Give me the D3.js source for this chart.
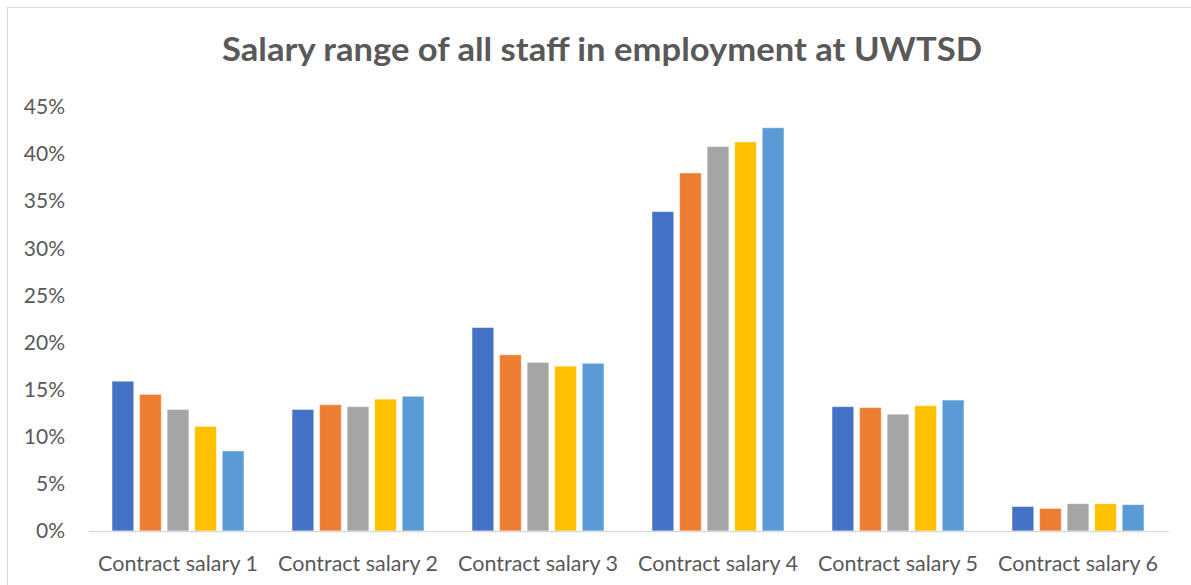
<!DOCTYPE html>
<html>
<head>
<meta charset="utf-8">
<script src="https://cdn.jsdelivr.net/npm/d3@7"></script>
<style>
  html, body { margin: 0; padding: 0; background: #fff; overflow: hidden; }
  svg { display: block; }
  text { font-family: Lato, "Open Sans", sans-serif; fill: #595959; }
</style>
</head>
<body>
<svg id="chart" width="1191" height="585"></svg>
<script>
const title = "Salary range of all staff in employment at UWTSD";
const categories = ["Contract salary 1", "Contract salary 2", "Contract salary 3", "Contract salary 4", "Contract salary 5", "Contract salary 6"];
const seriesNames = ["Series 1", "Series 2", "Series 3", "Series 4", "Series 5"];
const series1 = [0.159, 0.129, 0.216, 0.339, 0.132, 0.026];
const series2 = [0.145, 0.134, 0.187, 0.380, 0.131, 0.024];
const series3 = [0.129, 0.132, 0.179, 0.408, 0.124, 0.029];
const series4 = [0.111, 0.140, 0.175, 0.413, 0.133, 0.029];
const series5 = [0.085, 0.143, 0.178, 0.428, 0.139, 0.028];
const seriesValues = [series1, series2, series3, series4, series5];
const colors = ["#4472C4", "#ED7D31", "#A5A5A5", "#FFC000", "#5B9BD5"];
const yTicks = [0, 0.05, 0.10, 0.15, 0.20, 0.25, 0.30, 0.35, 0.40, 0.45];

const svg = d3.select("#chart");

// chart area border
svg.append("rect")
  .attr("x", 7.5).attr("y", 7.5)
  .attr("width", 1190).attr("height", 600)
  .attr("fill", "#fff").attr("stroke", "#D9D9D9").attr("stroke-width", 1);

const plotLeft = 88, plotRight = 1168, plotTop = 107, plotBottom = 531;

const x0 = d3.scaleBand().domain(categories).range([plotLeft, plotRight]);
const x1 = d3.scaleBand().domain(seriesNames).range([24, 156]).paddingInner(0.21);
const y = d3.scaleLinear().domain([0, 0.45]).range([plotBottom, plotTop]);

// title
svg.append("text")
  .attr("x", 602).attr("y", 61)
  .attr("text-anchor", "middle")
  .attr("textLength", 760).attr("lengthAdjust", "spacingAndGlyphs")
  .style("font-size", "32px").style("font-weight", "bold")
  .text(title);

// y axis (labels only)
const yAxis = d3.axisLeft(y).tickValues(yTicks).tickFormat(d3.format(".0%")).tickSize(0).tickPadding(0);
const yg = svg.append("g").attr("transform", `translate(65,0)`).call(yAxis);
yg.select(".domain").remove();
yg.selectAll("text")
  .style("font-size", "21px").style("font-family", "Lato, sans-serif").attr("fill", "#595959")
  .attr("dy", "0.32em");

// bars
const groups = svg.append("g").selectAll("g")
  .data(categories)
  .join("g")
  .attr("transform", d => `translate(${x0(d)},0)`);

groups.selectAll("rect")
  .data((d, i) => seriesNames.map((s, j) => ({ s, j, v: seriesValues[j][i] })))
  .join("rect")
  .attr("x", d => x1(d.s))
  .attr("width", x1.bandwidth())
  .attr("y", d => y(d.v))
  .attr("height", d => y(0) - y(d.v))
  .attr("fill", d => colors[d.j])
  .attr("stroke", "#ffffff").attr("stroke-opacity", 0.5).attr("stroke-width", 1);

// x axis
const xAxis = d3.axisBottom(x0).tickSize(0).tickPadding(0);
const xg = svg.append("g").attr("transform", `translate(0,${plotBottom})`).call(xAxis);
xg.select(".domain").attr("stroke", "#D9D9D9").attr("stroke-width", 1.5);
xg.selectAll("text")
  .style("font-size", "21.5px").style("font-family", "Lato, sans-serif").attr("fill", "#595959")
  .attr("y", 40).attr("dy", 0);
</script>
</body>
</html>
